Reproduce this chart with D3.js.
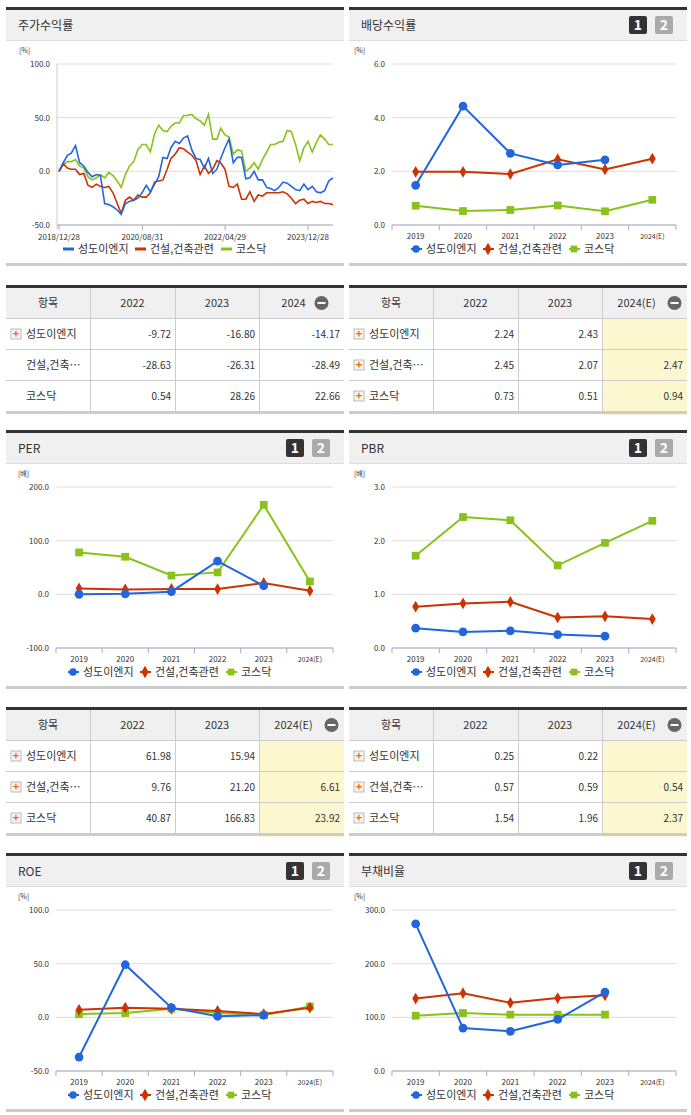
<!DOCTYPE html>
<html><head><meta charset="utf-8">
<script src="https://cdn.jsdelivr.net/npm/d3@7"></script>
<style>
body{margin:0;background:#fff;font-family:"Noto Sans CJK KR","Noto Sans",sans-serif;}
</style></head>
<body><div id="chart"></div>
<script>
const seriesNames = ["성도이엔지", "건설,건축관련", "코스닥"];
const colors = ["#2266dd", "#cc3300", "#88c21a"];
const years = ["2019", "2020", "2021", "2022", "2023", "2024(E)"];

// 주가수익률 (monthly from 2018/12/28)
const stockA = [0,8,15,17,24,8,5,-1,-5,-3,-4,-30,-31,-33,-36,-40,-30,-28,-27,-25,-20,-13,-19,-12,-5,13,12,22,28,26,31,33,20,12,11,3,12,-2,2,12,22,30,8,13,13,-7,-6,0,-8,-8,-15,-16,-18,-15,-10,-11,-14,-17,-18,-12,-17,-14,-19,-20,-18,-9,-6];
const stockB = [0,7,3,2,2,-3,-2,-13,-15,-12,-14,-15,-14,-20,-30,-39,-27,-24,-27,-22,-24,-24,-20,-10,-9,-8,2,12,16,22,21,18,15,10,-3,5,-2,2,10,8,2,-14,-15,-12,-26,-26,-19,-28,-22,-23,-20,-20,-20,-20,-19,-21,-25,-30,-27,-26,-30,-28,-29,-28,-30,-30,-31];
const stockC = [0,6,9,9,11,5,3,-5,-8,-6,-3,-6,-1,-4,-9,-15,-3,5,9,20,25,25,18,35,43,38,37,42,45,45,52,52,53,49,47,43,53,30,30,40,34,32,16,20,19,0,3,8,2,11,18,25,25,27,28,38,37,25,10,22,28,18,27,34,30,25,25];
const stockTicks = ["2018/12/28", "2020/08/31", "2022/04/29", "2023/12/28"];

const divA = [1.48, 4.43, 2.67, 2.24, 2.43, null];
const divB = [1.98, 1.98, 1.9, 2.45, 2.07, 2.47];
const divC = [0.72, 0.52, 0.56, 0.73, 0.51, 0.94];
const perA = [0, 1, 5, 61.98, 15.94, null];
const perB = [11, 9, 10, 9.76, 21.2, 6.61];
const perC = [78, 70, 35, 40.87, 166.83, 23.92];
const pbrA = [0.37, 0.3, 0.32, 0.25, 0.22, null];
const pbrB = [0.77, 0.83, 0.86, 0.57, 0.59, 0.54];
const pbrC = [1.72, 2.44, 2.38, 1.54, 1.96, 2.37];
const roeA = [-37, 49, 9, 1, 2, null];
const roeB = [7, 9, 8, 6, 3, 9];
const roeC = [3, 4, 8, 4, 2, 10];
const debtA = [274, 80, 74, 96, 147, null];
const debtB = [135, 145, 127, 136, 141, null];
const debtC = [103, 108, 105, 105, 105, null];

const tblStock = [["-9.72", "-16.80", "-14.17"], ["-28.63", "-26.31", "-28.49"], ["0.54", "28.26", "22.66"]];
const tblDiv = [["2.24", "2.43", ""], ["2.45", "2.07", "2.47"], ["0.73", "0.51", "0.94"]];
const tblPer = [["61.98", "15.94", ""], ["9.76", "21.20", "6.61"], ["40.87", "166.83", "23.92"]];
const tblPbr = [["0.25", "0.22", ""], ["0.57", "0.59", "0.54"], ["1.54", "1.96", "2.37"]];

const svg = d3.select("#chart").append("svg").attr("width", 691).attr("height", 1115)
  .style("font-family", '"Noto Sans CJK KR","Noto Sans",sans-serif');

function panelFrame(x0, w, T, title, pager) {
  const g = svg.append("g");
  g.append("rect").attr("x", x0).attr("y", T).attr("width", w).attr("height", 3).attr("fill", "#333");
  g.append("rect").attr("x", x0).attr("y", T + 3).attr("width", w).attr("height", 30).attr("fill", "#f0f0f0");
  g.append("rect").attr("x", x0).attr("y", T + 33).attr("width", w).attr("height", 1).attr("fill", "#ddd");
  g.append("text").attr("x", x0 + 12).attr("y", T + 23).attr("font-size", 12).attr("fill", "#333").text(title);
  if (pager) {
    [["1", "#333"], ["2", "#aaa"]].forEach((p, i) => {
      const bx = x0 + w - 58 + i * 26;
      g.append("rect").attr("x", bx).attr("y", T + 9).attr("width", 18).attr("height", 18).attr("rx", 2).attr("fill", p[1]);
      g.append("text").attr("x", bx + 9).attr("y", T + 23).attr("text-anchor", "middle")
        .attr("font-size", 14).attr("font-weight", "bold").attr("fill", "#fff").text(p[0]);
    });
  }
  g.append("rect").attr("x", x0).attr("y", T + 256).attr("width", w).attr("height", 3).attr("fill", "#ccc");
  return g;
}

function yAxisGrid(g, x0, x1, y, ticks, unit, T) {
  g.append("text").attr("x", x0 - 38).attr("y", T + 46).attr("font-size", 7).attr("fill", "#333").text(unit);
  ticks.forEach(t => {
    g.append("line").attr("x1", x0).attr("x2", x1).attr("y1", y(t)).attr("y2", y(t)).attr("stroke", "#ddd");
    g.append("text").attr("x", x0 - 7).attr("y", y(t) + 3).attr("text-anchor", "end")
      .attr("font-size", 8).attr("fill", "#333").text(t.toFixed(1));
  });
}

function legend(g, cx, y, markerType) {
  const widths = [72, 86, 46];
  let x = cx - d3.sum(widths) / 2;
  seriesNames.forEach((n, i) => {
    if (markerType) {
      g.append("path").attr("d", d3.symbol().type([d3.symbolCircle, d3.symbolDiamond, d3.symbolSquare][i]).size(45)())
        .attr("transform", `translate(${x + 5},${y - 4})`).attr("fill", colors[i]);
      g.append("line").attr("x1", x).attr("x2", x + 11).attr("y1", y - 4).attr("y2", y - 4).attr("stroke", colors[i]).attr("stroke-width", 2);
    } else {
      g.append("line").attr("x1", x).attr("x2", x + 11).attr("y1", y - 4).attr("y2", y - 4).attr("stroke", colors[i]).attr("stroke-width", 3);
    }
    g.append("text").attr("x", x + 15).attr("y", y).attr("font-size", 11).attr("fill", "#333").text(n);
    x += widths[i];
  });
}

function stockChart(x0, w, T) {
  const g = panelFrame(x0, w, T, "주가수익률", false);
  const start = new Date(2018, 11, 28);
  const dates = stockA.map((d, i) => d3.timeMonth.offset(start, i));
  const x = d3.scaleTime().domain([start, d3.timeMonth.offset(start, 60)]).range([59, 308]);
  const y = d3.scaleLinear().domain([-50, 100]).range([T + 218, T + 57]);
  yAxisGrid(g, 57, 333, y, [-50, 0, 50, 100], "[%]", T);
  g.append("line").attr("x1", 57).attr("x2", 333).attr("y1", T + 218).attr("y2", T + 218).attr("stroke", "#aab");
  g.append("line").attr("x1", 57).attr("x2", 57).attr("y1", T + 57).attr("y2", T + 222).attr("stroke", "#ccc");
  stockTicks.forEach(s => {
    const d = d3.timeParse("%Y/%m/%d")(s), px = x(d);
    g.append("line").attr("x1", px).attr("x2", px).attr("y1", T + 218).attr("y2", T + 223).attr("stroke", "#aab");
    g.append("text").attr("x", px).attr("y", T + 233).attr("text-anchor", "middle").attr("font-size", 8).attr("fill", "#333").text(s);
  });
  const line = d3.line().x((d, i) => x(dates[i])).y(d => y(d));
  [stockC, stockB, stockA].forEach((s, k) => {
    g.append("path").datum(s).attr("d", line).attr("fill", "none")
      .attr("stroke", colors[2 - k]).attr("stroke-width", 1.6);
  });
  legend(g, x0 + w / 2 - 10, T + 246, false);
}

function catChart(x0, w, T, title, ax0, ax1, dom, ticks, unit, sets) {
  const g = panelFrame(x0, w, T, title, true);
  const x = d3.scaleBand().domain(years).range([ax0, ax1]);
  const y = d3.scaleLinear().domain(dom).range([T + 218, T + 57]);
  yAxisGrid(g, ax0, ax1, y, ticks, unit, T);
  g.append("line").attr("x1", ax0).attr("x2", ax1).attr("y1", T + 218).attr("y2", T + 218).attr("stroke", "#aac");
  d3.range(7).forEach(i => {
    const px = ax0 + i * x.bandwidth();
    g.append("line").attr("x1", px).attr("x2", px).attr("y1", T + 218).attr("y2", T + 223).attr("stroke", "#aac");
  });
  years.forEach(yr => g.append("text").attr("x", x(yr) + x.bandwidth() / 2).attr("y", T + 232)
    .attr("text-anchor", "middle").attr("font-size", yr.length > 4 ? 7 : 8).attr("fill", "#333").text(yr));
  const cx = (d, i) => x(years[i]) + x.bandwidth() / 2;
  const line = d3.line().defined(d => d !== null).x(cx).y(d => y(d));
  const syms = [d3.symbolCircle, d3.symbolDiamond, d3.symbolSquare];
  [2, 1, 0].forEach(k => {
    const s = sets[k];
    g.append("path").datum(s).attr("d", line).attr("fill", "none").attr("stroke", colors[k]).attr("stroke-width", 2);
    s.forEach((d, i) => {
      if (d === null) return;
      g.append("path").attr("d", d3.symbol().type(syms[k]).size(k === 1 ? 40 : 60)())
        .attr("transform", `translate(${cx(d, i)},${y(d)})`).attr("fill", colors[k]);
    });
  });
  legend(g, x0 + w / 2 - 5, T + 246, true);
}

function table(x0, w, T, lastHead, rows, highlight, plusFirst) {
  const g = svg.append("g");
  const cw = [84, 85, 84, w - 253];
  const cx = [x0, x0 + 84, x0 + 169, x0 + 253];
  g.append("rect").attr("x", x0).attr("y", T).attr("width", w).attr("height", 3).attr("fill", "#333");
  g.append("rect").attr("x", x0).attr("y", T + 3).attr("width", w).attr("height", 30).attr("fill", "#f0f0f0");
  if (highlight) g.append("rect").attr("x", cx[3]).attr("y", T + 34).attr("width", cw[3]).attr("height", 96).attr("fill", "#fdf7cf");
  const heads = ["항목", "2022", "2023", lastHead];
  heads.forEach((h, i) => {
    const tx = i === 3 ? cx[i] + cw[i] / 2 - 8 : cx[i] + cw[i] / 2;
    g.append("text").attr("x", tx).attr("y", T + 22).attr("text-anchor", "middle").attr("font-size", 11).attr("fill", "#333").text(h);
  });
  g.append("circle").attr("cx", cx[3] + cw[3] / 2 + (lastHead.length > 4 ? 30 : 20)).attr("cy", T + 18).attr("r", 7).attr("fill", "#666");
  g.append("rect").attr("x", cx[3] + cw[3] / 2 + (lastHead.length > 4 ? 26 : 16)).attr("y", T + 17).attr("width", 8).attr("height", 2).attr("fill", "#fff");
  const labels = ["성도이엔지", "건설,건축…", "코스닥"];
  rows.forEach((r, j) => {
    const ry = T + 33 + j * 31;
    g.append("rect").attr("x", x0).attr("y", ry).attr("width", w).attr("height", 1).attr("fill", "#ccc");
    const hasPlus = plusFirst ? j === 0 : true;
    if (hasPlus) {
      g.append("rect").attr("x", x0 + 5).attr("y", ry + 11).attr("width", 10).attr("height", 10).attr("fill", "#f4f4f4").attr("stroke", "#bbb");
      g.append("text").attr("x", x0 + 10).attr("y", ry + 20).attr("text-anchor", "middle").attr("font-size", 11).attr("font-weight", "bold").attr("fill", "#f60").text("+");
    }
    g.append("text").attr("x", x0 + 20).attr("y", ry + 20).attr("font-size", 11).attr("fill", "#333").text(labels[j]);
    r.forEach((v, i) => g.append("text").attr("x", cx[i + 1] + cw[i + 1] - 4).attr("y", ry + 20)
      .attr("text-anchor", "end").attr("font-size", 10).attr("fill", "#333").text(v));
  });
  [1, 2, 3].forEach(i => g.append("rect").attr("x", cx[i]).attr("y", T + 3).attr("width", 1).attr("height", 124).attr("fill", "#ccc"));
  g.append("rect").attr("x", x0).attr("y", T + 126).attr("width", w).attr("height", 3).attr("fill", "#ccc");
}

const L = 6, R = 349, W = 338;
stockChart(L, W, 7);
catChart(R, W, 7, "배당수익률", 392, 676, [0, 6], [0, 2, 4, 6], "[%]", [divA, divB, divC]);
table(L, W, 285, "2024", tblStock, false, true);
table(R, W, 285, "2024(E)", tblDiv, true, false);
catChart(L, W, 430, "PER", 56, 333, [-100, 200], [-100, 0, 100, 200], "[배]", [perA, perB, perC]);
catChart(R, W, 430, "PBR", 392, 676, [0, 3], [0, 1, 2, 3], "[배]", [pbrA, pbrB, pbrC]);
table(L, W, 707, "2024(E)", tblPer, true, false);
table(R, W, 707, "2024(E)", tblPbr, true, false);
catChart(L, W, 853, "ROE", 56, 333, [-50, 100], [-50, 0, 50, 100], "[%]", [roeA, roeB, roeC]);
catChart(R, W, 853, "부채비율", 392, 676, [0, 300], [0, 100, 200, 300], "[%]", [debtA, debtB, debtC]);
</script></body></html>
